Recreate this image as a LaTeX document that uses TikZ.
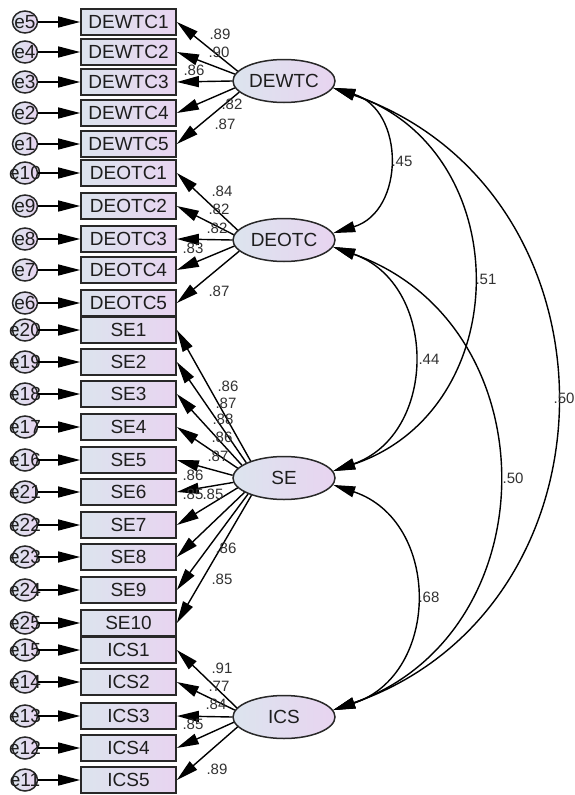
\documentclass[tikz,border=0pt]{standalone}
\usepackage{fontspec}
\setmainfont{Liberation Sans}
\usetikzlibrary{shapes.geometric,arrows.meta}
\definecolor{fillL}{RGB}{220,228,238}
\definecolor{fillR}{RGB}{232,212,240}
\definecolor{edge}{RGB}{40,40,40}
\definecolor{txt}{RGB}{30,30,30}
\definecolor{ctxt}{RGB}{50,50,50}
\begin{document}
\begin{tikzpicture}[x=1pt,y=-1pt,
  obs/.style={draw=edge,line width=1.7pt,rectangle,minimum width=95pt,minimum height=26pt,inner sep=0pt,left color=fillL,right color=fillR,font=\fontsize{19}{19}\selectfont,text=txt},
  lat/.style={draw=edge,line width=1.5pt,ellipse,minimum width=102pt,minimum height=43pt,inner sep=0pt,left color=fillL,right color=fillR,font=\fontsize{19}{19}\selectfont,text=txt},
  err/.style={draw=edge,line width=1.5pt,ellipse,minimum width=25pt,minimum height=22pt,inner sep=0pt,left color=fillL,right color=fillR},
  elab/.style={font=\fontsize{19}{19}\selectfont,text=txt,inner sep=0pt},
  ld/.style={line width=1.4pt,draw=black,-{Triangle[length=22pt,width=11pt]}},
  cv/.style={line width=1.4pt,draw=black,{Triangle[length=22pt,width=11pt]}-{Triangle[length=22pt,width=11pt]}},
  coef/.style={font=\fontsize{15}{15}\selectfont,text=ctxt,inner sep=0pt}]
\useasboundingbox (0,0) rectangle (575,795);
\fill[white] (0,0) rectangle (575,795);

% latent variables
\node[lat] (DEWTC) at (284,81) {DEWTC};
\node[lat] (DEOTC) at (284,240) {DEOTC};
\node[lat] (SE) at (284,478) {SE};
\node[lat] (ICS) at (284,717) {ICS};

% indicators with errors
\foreach \n/\y/\e/\a/\L in {
  DEWTC1/22/e5/168/DEWTC, DEWTC2/52/e4/172/DEWTC, DEWTC3/82/e3/180/DEWTC, DEWTC4/113/e2/188/DEWTC, DEWTC5/144/e1/194/DEWTC,
  DEOTC1/173/e10/168/DEOTC, DEOTC2/206/e9/174/DEOTC, DEOTC3/239/e8/180/DEOTC, DEOTC4/270/e7/187/DEOTC, DEOTC5/303/e6/194/DEOTC,
  SE1/330/e20/153/SE, SE2/362/e19/158/SE, SE3/394/e18/163/SE, SE4/427/e17/168/SE, SE5/460/e16/177/SE,
  SE6/492/e21/185/SE, SE7/525/e22/192/SE, SE8/557/e23/200/SE, SE9/590/e24/204/SE, SE10/623/e25/208/SE,
  ICS1/650/e15/169/ICS, ICS2/682/e14/172/ICS, ICS3/716/e13/180/ICS, ICS4/748/e12/186/ICS, ICS5/780/e11/192/ICS}
{
  \node[obs] (\n) at (128.5,\y) {\n};
  \node[err] (\e) at (25,\y) {};
  \node[elab] (t\e) at (\e.center) {\e};
  \draw[ld] (\e) -- (\n);
  \draw[ld] (\L.\a) -- (\n.east);
}

% loading coefficients
\foreach \v/\x/\y [count=\i] in {
  .89/220/34, .90/219/52, .86/194/70, .82/232/104, .87/225/124,
  .84/222/191, .82/219/209, .82/217/228, .83/193/248, .87/219/291,
  .86/228/386, .87/226/403, .88/223/419, .86/222/437, .87/218/456,
  .86/193/475, .85/193/494, .85/213/494, .86/226/548, .85/222/579,
  .91/222/668, .77/219/686, .84/216/704, .85/193/724, .89/217/769}
{
  \node[coef] (w\i) at (\x,\y) {\v};
}

% covariances
\draw[cv] (DEWTC.-8) .. controls +(72,22) and +(72,-22) .. (DEOTC.8);
\draw[cv] (DEWTC.-8) .. controls +(184,62) and +(184,-62) .. (SE.8);
\draw[cv] (DEWTC.-8) .. controls +(295,103) and +(295,-103) .. (ICS.8);
\draw[cv] (DEOTC.-8) .. controls +(105,37) and +(105,-37) .. (SE.8);
\draw[cv] (DEOTC.-8) .. controls +(218,77) and +(218,-77) .. (ICS.8);
\draw[cv] (SE.-8) .. controls +(108,36) and +(108,-36) .. (ICS.8);

\node[coef] (c1) at (402,161) {.45};
\node[coef] (c2) at (486,279) {.51};
\node[coef] (c3) at (429,359) {.44};
\node[coef] (c4) at (564,398) {.50};
\node[coef] (c5) at (513,478) {.50};
\node[coef] (c6) at (429,597) {.68};
\end{tikzpicture}
\end{document}
